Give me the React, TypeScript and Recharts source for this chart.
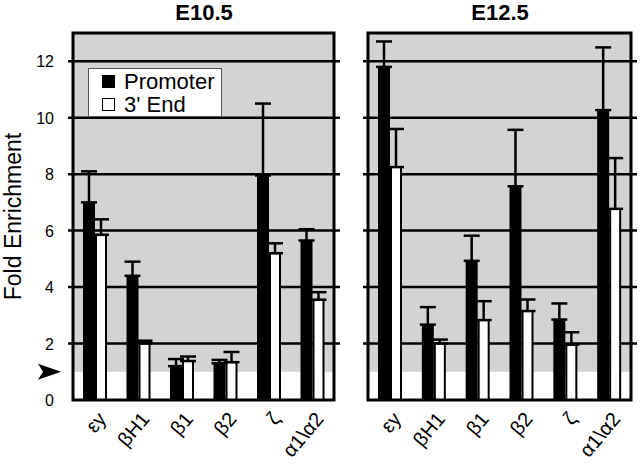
import React from "react";
import {
  BarChart,
  Bar,
  XAxis,
  YAxis,
  ErrorBar,
  ReferenceArea,
  ReferenceLine,
  Label
} from "recharts";

const categories = ["εy", "βH1", "β1", "β2", "ζ", "α1\\α2"];

const e105Promoter = [7.0, 4.4, 1.2, 1.3, 7.95, 5.65];
const e105PromoterErr = [1.1, 0.5, 0.25, 0.12, 2.55, 0.4];
const e105End = [5.85, 2.0, 1.38, 1.34, 5.2, 3.55];
const e105EndErr = [0.55, 0.1, 0.16, 0.36, 0.35, 0.27];

const e125Promoter = [11.8, 2.67, 4.93, 7.57, 2.85, 10.27];
const e125PromoterErr = [0.9, 0.62, 0.89, 2.0, 0.57, 2.22];
const e125End = [8.25, 2.0, 2.83, 3.15, 1.96, 6.77];
const e125EndErr = [1.35, 0.14, 0.67, 0.41, 0.44, 1.8];

const yTicks = [0, 1, 2, 4, 6, 8, 10, 12];
const gridValues = [2, 4, 6, 8, 10, 12];
const legendItems = [
  { label: "Promoter", fill: "#000" },
  { label: "3' End", fill: "#fff" }
];

const FONT = "'Liberation Sans', Arial, Helvetica, sans-serif";
const GRAY = "#d3d3d3";

function buildRows(prom: number[], promErr: number[], end: number[], endErr: number[]) {
  return categories.map((name, i) => ({
    name,
    promoter: prom[i],
    promoterErr: [0, promErr[i]],
    end: end[i],
    endErr: [0, endErr[i]]
  }));
}

const e105Data = buildRows(e105Promoter, e105PromoterErr, e105End, e105EndErr);
const e125Data = buildRows(e125Promoter, e125PromoterErr, e125End, e125EndErr);

function YTick(props: any) {
  const { x, y, payload } = props;
  if (payload.value === 1) {
    return (
      <path
        d={`M${x - 22},${y - 8} L${x + 1},${y} L${x - 22},${y + 8} L${x - 17},${y} Z`}
        fill="#000"
      />
    );
  }
  return (
    <text x={x - 6} y={y} dy={6} textAnchor="end" fontSize={16} fontFamily={FONT} fill="#000">
      {payload.value}
    </text>
  );
}

function XTick(props: any) {
  const { x, y, payload } = props;
  return (
    <g transform={`translate(${x + 7},${y + 7})`}>
      <text transform="rotate(-50)" textAnchor="end" dy={7} fontSize={20} fontFamily={FONT} fill="#000">
        {payload.value}
      </text>
    </g>
  );
}

function LegendBox() {
  return (
    <div
      style={{
        position: "absolute",
        left: 88,
        top: 68,
        background: "#fff",
        border: "1px solid #555",
        width: 134,
        height: 49,
        boxSizing: "border-box",
        padding: "1px 0 0 13px",
        fontFamily: FONT,
        fontSize: 22,
        lineHeight: "23px",
        color: "#000"
      }}
    >
      {legendItems.map((it) => (
        <div key={it.label} style={{ display: "flex", alignItems: "center", height: 23 }}>
          <span
            style={{
              display: "inline-block",
              width: 13,
              height: 13,
              background: it.fill,
              border: "1px solid #000",
              boxSizing: "border-box",
              marginRight: 9
            }}
          />
          <span>{it.label}</span>
        </div>
      ))}
    </div>
  );
}

function Panel({ data, width, margin, showY }: any) {
  return (
    <BarChart width={width} height={464} data={data} margin={margin} barGap={1}>
      <ReferenceArea y1={1} y2={13} fill={GRAY} fillOpacity={1} stroke="none" zIndex={-200} />
      {gridValues.map((v) => (
        <ReferenceLine key={v} y={v} stroke="#000" strokeWidth={2.5} zIndex={-150} />
      ))}
      <XAxis
        dataKey="name"
        interval={0}
        tickLine={false}
        axisLine={false}
        height={64}
        padding={{ left: 5, right: 6 }}
        tick={<XTick />}
      />
      <YAxis
        domain={[0, 13]}
        ticks={yTicks}
        type="number"
        hide={!showY}
        width={68}
        tickLine={false}
        axisLine={false}
        tick={<YTick />}
        interval={0}
      >
        {showY && (
          <Label
            value="Fold Enrichment"
            angle={-90}
            position="insideLeft"
            offset={13}
            style={{ fontSize: 23, fontFamily: FONT, fill: "#000", textAnchor: "middle" }}
          />
        )}
      </YAxis>
      <Bar dataKey="promoter" fill="#000" barSize={12} isAnimationActive={false}>
        <ErrorBar dataKey="promoterErr" width={8} stroke="#000" strokeWidth={2.5} />
      </Bar>
      <Bar
        dataKey="end"
        fill="#fff"
        stroke="#000"
        strokeWidth={2}
        barSize={10}
        isAnimationActive={false}
      >
        <ErrorBar dataKey="endErr" width={8} stroke="#000" strokeWidth={2.5} />
      </Bar>
      <ReferenceArea y1={0} y2={13} fill="none" stroke="#000" strokeWidth={3} zIndex={1000} />
    </BarChart>
  );
}

export default function App() {
  const title: React.CSSProperties = {
    position: "absolute",
    top: 0,
    fontFamily: FONT,
    fontWeight: "bold",
    fontSize: 22,
    textAlign: "center",
    color: "#000"
  };
  return (
    <div style={{ position: "absolute", left: 0, top: 0, width: 640, height: 464, background: "#fff" }}>
      <div style={{ position: "absolute", left: 0, top: 0 }}>
        <Panel data={e105Data} width={345} margin={{ top: 33, right: 5, left: 0, bottom: 0 }} showY />
      </div>
      <div style={{ position: "absolute", left: 345, top: 0 }}>
        <Panel data={e125Data} width={295} margin={{ top: 33, right: 3, left: 18, bottom: 0 }} showY={false} />
      </div>
      <div style={{ ...title, left: 68, width: 272 }}>E10.5</div>
      <div style={{ ...title, left: 363, width: 274 }}>E12.5</div>
      <LegendBox />
    </div>
  );
}
